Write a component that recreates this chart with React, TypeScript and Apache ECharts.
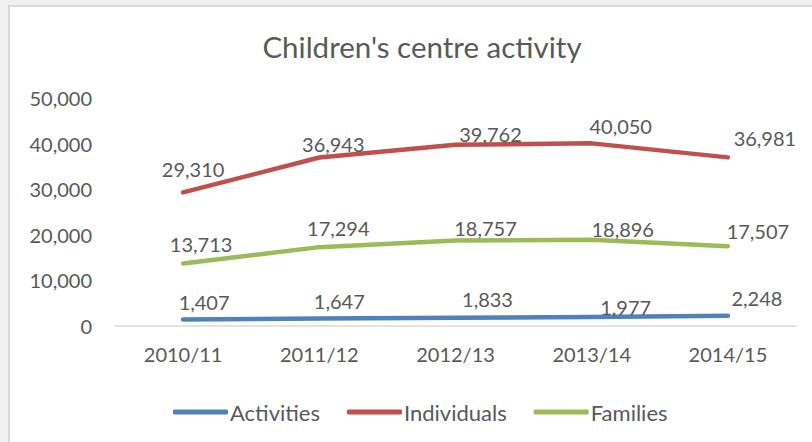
import React, { useEffect, useRef } from "react";
import * as echarts from "echarts";

const categories = ["2010/11", "2011/12", "2012/13", "2013/14", "2014/15"];
const activities = [1407, 1647, 1833, 1977, 2248];
const individuals = [29310, 36943, 39762, 40050, 36981];
const families = [13713, 17294, 18757, 18896, 17507];
const yTicks = { min: 0, max: 50000, interval: 10000 };

// label offsets (px) relative to each point, for positioning only
const activitiesOffsets = [[21, -18], [20, -17], [32, -19], [34, -10], [29, -18]];
const individualsOffsets = [[10, -23], [14, -14], [35, -11], [29, -17], [37, -19]];
const familiesOffsets = [[18, -19], [19, -19], [30, -12], [31, -11], [30, -15]];

const TEXT = "#595959";
const FONT = "Lato, 'Open Sans', sans-serif";
const fmt = (v: number) => v.toLocaleString("en-US");

function makeSeries(name: string, values: number[], offsets: number[][], color: string) {
  return {
    name,
    type: "line",
    data: values.map((v, i) => ({
      value: v,
      label: { offset: offsets[i] },
    })),
    symbol: "circle",
    symbolSize: 1,
    showSymbol: true,
    itemStyle: { color },
    lineStyle: { color, width: 4.5, cap: "round", join: "round" },
    label: {
      show: true,
      position: "inside",
      color: TEXT,
      fontFamily: FONT,
      fontSize: 20,
      formatter: (p: any) => fmt(p.value),
    },
    z: 2,
  };
}

export default function App() {
  const ref = useRef<HTMLDivElement>(null);
  useEffect(() => {
    if (!ref.current) return;
    const chart = echarts.init(ref.current, undefined, { renderer: "svg" });
    chart.setOption({
      animation: false,
      backgroundColor: "transparent",
      title: {
        text: "Children's centre activity",
        left: 417,
        textAlign: "center",
        top: 26,
        textStyle: { color: TEXT, fontFamily: FONT, fontSize: 29.5, fontWeight: "normal" },
      },
      legend: {
        left: 168,
        top: 396,
        icon: "roundRect",
        itemWidth: 55,
        itemHeight: 5,
        itemGap: 27,
        textStyle: { color: TEXT, fontFamily: FONT, fontSize: 22, padding: [0, 0, 0, -3] },
        data: ["Activities", "Individuals", "Families"],
      },
      grid: { left: 115, right: 16, top: 98, bottom: 116, containLabel: false },
      xAxis: {
        type: "category",
        data: categories,
        boundaryGap: true,
        axisLine: { show: true, lineStyle: { color: "#d9d9d9", width: 1.5 } },
        axisTick: { show: false },
        axisLabel: { color: TEXT, fontFamily: FONT, fontSize: 20, margin: 18 },
        splitLine: { show: false },
      },
      yAxis: {
        type: "value",
        min: yTicks.min,
        max: yTicks.max,
        interval: yTicks.interval,
        axisLine: { show: false },
        axisTick: { show: false },
        splitLine: { show: false },
        axisLabel: { color: TEXT, fontFamily: FONT, fontSize: 20, margin: 23, formatter: (v: number) => fmt(v) },
      },
      series: [
        makeSeries("Activities", activities, activitiesOffsets, "#4f81bd"),
        makeSeries("Individuals", individuals, individualsOffsets, "#c0504d"),
        makeSeries("Families", families, familiesOffsets, "#9bbb59"),
      ],
    });
    return () => chart.dispose();
  }, []);

  return (
    <div style={{ position: "fixed", left: 0, top: 0, width: 812, height: 442, background: "#f0f0f0", overflow: "hidden" }}>
      <div
        style={{
          position: "absolute",
          left: 8,
          top: 5,
          right: 0,
          bottom: 0,
          background: "#ffffff",
          borderLeft: "2px solid #d9d9d9",
          borderTop: "2px solid #d9d9d9",
        }}
      />
      <div ref={ref} style={{ position: "absolute", left: 0, top: 0, width: 812, height: 442 }} />
    </div>
  );
}
